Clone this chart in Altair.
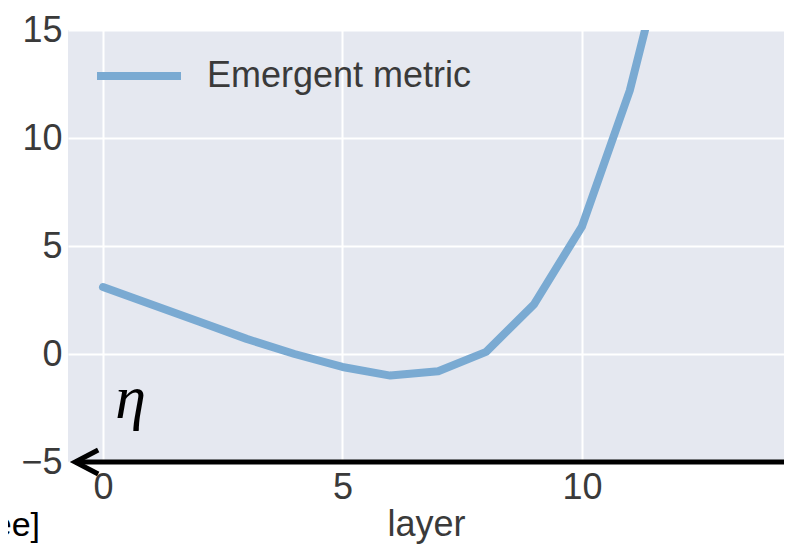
import altair as alt
import pandas as pd

# ---- data ----
layers = [0, 1, 2, 3, 4, 5, 6, 7, 8, 9, 10, 11, 12]
metric = [3.1, 2.3, 1.5, 0.7, 0.0, -0.6, -1.0, -0.8, 0.1, 2.3, 5.9, 12.2, 21.0]
series_name = "Emergent metric"
x_ticks = [0, 5, 10]
y_ticks = [-5, 0, 5, 10, 15]
x_domain = [-0.73, 14.22]
y_domain = [-5, 15]

# annotation anchors (data units)
arrow_start = [-0.58]
arrow_end = [14.22]
arrow_level = [-5]
eta_x = [0.58]
eta_y = [-2.1]

df = pd.DataFrame({"layer": layers, "metric": metric,
                   "series": [series_name] * len(layers)})
arrow_df = pd.DataFrame({"x": arrow_start, "x2": arrow_end, "y": arrow_level})
eta_df = pd.DataFrame({"x": eta_x, "y": eta_y, "t": ["η"]})
frag_df = pd.DataFrame({"t": ["[see]"]})

FONT = "Liberation Sans"
LABEL = "#3a3a3a"
W, H = 716, 432

xs = alt.Scale(domain=x_domain, nice=False, zero=False)
ys = alt.Scale(domain=y_domain, nice=False, zero=False)

line = alt.Chart(df).mark_line(
    strokeWidth=8, strokeCap="round", strokeJoin="round", clip=True
).encode(
    x=alt.X("layer:Q", scale=xs,
            axis=alt.Axis(values=x_ticks, title="layer", labelPadding=8,
                          titlePadding=2, labelFlush=False, labelOverlap=False)),
    y=alt.Y("metric:Q", scale=ys,
            axis=alt.Axis(values=y_ticks, title=None, labelPadding=6,
                          labelOverlap=False, labelFlush=False)),
    color=alt.Color("series:N", scale=alt.Scale(range=["#7AAAD2"]),
                    legend=alt.Legend(title=None, orient="none", legendX=25,
                                      legendY=0, symbolType="stroke",
                                      symbolSize=7056, symbolStrokeWidth=8,
                                      labelFontSize=36, labelFont=FONT,
                                      labelColor=LABEL, labelOffset=22,
                                      labelLimit=0, padding=0)),
)

arrow = alt.Chart(arrow_df).mark_rule(color="black", strokeWidth=5).encode(
    x=alt.X("x:Q", scale=xs), x2="x2:Q", y=alt.Y("y:Q", scale=ys)
)
head = alt.Chart(arrow_df).mark_point(
    shape="M 1 -0.52 L 0 0 L 1 0.52", filled=False, strokeWidth=5,
    color="black", opacity=1, size=2116
).encode(x=alt.X("x:Q", scale=xs), y=alt.Y("y:Q", scale=ys))

eta = alt.Chart(eta_df).mark_text(
    font="Liberation Serif", fontStyle="italic", fontSize=62, color="black"
).encode(x=alt.X("x:Q", scale=xs), y=alt.Y("y:Q", scale=ys), text="t:N")

frag = alt.Chart(frag_df).mark_text(
    font="Liberation Sans", fontSize=34, color="black", align="right",
    baseline="alphabetic"
).encode(x=alt.value(-28), y=alt.value(506), text="t:N")

chart = alt.layer(line, arrow, head, eta, frag).properties(
    width=W, height=H,
    padding={"left": 60, "top": 22, "right": 0, "bottom": 83},
    autosize=alt.AutoSizeParams(type="none"),
    background="white",
).configure_view(fill="#E5E8F0", stroke=None).configure_axis(
    grid=True, gridColor="white", gridWidth=2, domain=False, ticks=False,
    labelFont=FONT, labelFontSize=36, labelColor=LABEL,
    titleFont=FONT, titleFontSize=36, titleColor=LABEL, titleFontWeight="normal",
)

chart.save("out.html", embed_options={"renderer": "svg", "actions": False})
